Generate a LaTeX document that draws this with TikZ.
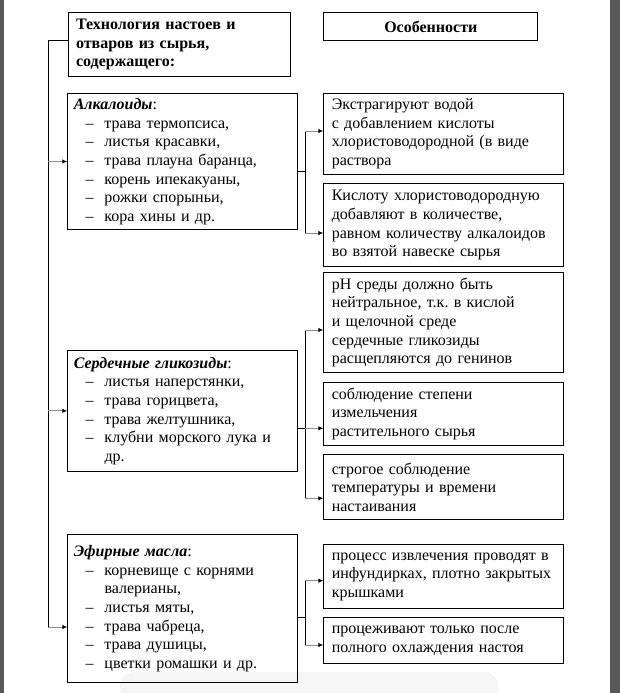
\documentclass[tikz,border=0pt]{standalone}
\usepackage{fontspec}
\setmainfont{Liberation Serif}
\usetikzlibrary{arrows.meta}
\newlength\pxl
\setlength\pxl{0.75pt}
\definecolor{edgegray}{HTML}{585858}
\definecolor{shaftgray}{HTML}{8C8C8C}
\definecolor{ghost}{HTML}{F5F5F5}
\newcommand\itm[1]{\hspace*{11.7\pxl}\makebox[19\pxl][l]{–}#1}
\newcommand\cnt[1]{\hspace*{30.7\pxl}#1}
\frenchspacing
\begin{document}
\begin{tikzpicture}[x=0.75pt,y=-0.75pt,
  basefont/.style={font=\fontsize{12pt}{14pt}\selectfont\frenchspacing},
  box/.style={draw=black, line width=0.75pt, anchor=north west, align=left, inner ysep=0pt, basefont},
  rbox/.style={box, text width=223.4\pxl, inner xsep=8\pxl},
  lbox/.style={box, text width=217.4\pxl, inner xsep=6\pxl},
  conn/.style={draw=black, line width=0.75pt},
  arr/.style={draw=shaftgray, line width=0.75pt, -{Latex[length=3.75pt,width=3.4pt,color=black]}}]
\useasboundingbox (0,0) rectangle (620,693);
\fill[white] (0,0) rectangle (620,693);
\fill[edgegray] (0,0) rectangle (4,693);
\fill[edgegray] (610,0) rectangle (620,693);
\fill[ghost, rounded corners=10.5pt] (120,700) -- (120,672) -- (498,672) -- (498,700) -- cycle;

% headers
\node[box, text width=206\pxl, inner xsep=8\pxl, minimum height=63.7\pxl,
      font=\fontsize{12pt}{14pt}\selectfont\bfseries] (title) at (67.5,12.3)
  {Технология настоев и\\отваров из сырья,\\содержащего:};
\node[box, align=center, minimum width=214\pxl, minimum height=27.7\pxl,
      font=\fontsize{12pt}{14pt}\selectfont\bfseries] (feat) at (323.3,12.3) {Особенности};

% left boxes
\node[lbox, minimum height=136.6\pxl] (alk) at (67.3,92.7)
  {{\bfseries\itshape Алкалоиды}:\\
   \itm{трава термопсиса,}\\
   \itm{листья красавки,}\\
   \itm{трава плауна баранца,}\\
   \itm{корень ипекакуаны,}\\
   \itm{рожки спорыньи,}\\
   \itm{кора хины и др.}};
\node[lbox, minimum height=120.7\pxl] (card) at (67.3,350)
  {{\bfseries\itshape Сердечные гликозиды}:\\
   \itm{листья наперстянки,}\\
   \itm{трава горицвета,}\\
   \itm{трава желтушника,}\\
   \itm{клубни морского лука и}\\
   \cnt{др.}};
\node[lbox, minimum height=147.4\pxl] (ess) at (67.3,534.3)
  {{\bfseries\itshape Эфирные масла}:\\
   \itm{корневище с корнями}\\
   \cnt{валерианы,}\\
   \itm{листья мяты,}\\
   \itm{трава чабреца,}\\
   \itm{трава душицы,}\\
   \itm{цветки ромашки и др.}};

% right boxes
\node[rbox, minimum height=81.3\pxl] (b1) at (323.3,92.7)
  {Экстрагируют водой\\с добавлением кислоты\\хлористоводородной (в виде\\раствора};
\node[rbox, minimum height=82.7\pxl] (b2) at (323.3,183.3)
  {Кислоту хлористоводородную\\добавляют в количестве,\\равном количеству алкалоидов\\во взятой навеске сырья};
\node[rbox, minimum height=100.6\pxl] (b3) at (323.3,271.7)
  {pH среды должно быть\\нейтральное, т.к. в кислой\\и щелочной среде\\сердечные гликозиды\\расщепляются до генинов};
\node[rbox, minimum height=63.3\pxl] (b4) at (323.3,381.7)
  {соблюдение степени\\измельчения\\растительного сырья};
\node[rbox, minimum height=65\pxl] (b5) at (323.3,454.3)
  {строгое соблюдение\\температуры и времени\\настаивания};
\node[rbox, minimum height=64.3\pxl] (b6) at (323.3,544)
  {процесс извлечения проводят в\\инфундирках, плотно закрытых\\крышками};
\node[rbox, minimum height=46\pxl] (b7) at (323.3,617.3)
  {процеживают только после\\полного охлаждения настоя};

% left trunk
\coordinate (trunk) at (48.3,40);
\coordinate (tend) at (48.3,627);
\draw[conn] (title.west |- trunk) -- (trunk) -- (tend);
\draw[arr] (trunk |- alk.west) -- (alk.west);
\draw[arr] (trunk |- card.west) -- (card.west);
\draw[arr] (tend) -- (tend -| ess.west);

% alkaloids branch
\coordinate (a1) at (305.3,131);
\coordinate (aj) at (305.3,171);
\coordinate (a2) at (305.3,233);
\draw[conn] (a1) -- (a2);
\draw[conn] (alk.east |- aj) -- (aj);
\draw[arr] (a1) -- (a1 -| b1.west);
\draw[arr] (a2) -- (a2 -| b2.west);

% cardiac branch
\coordinate (c1) at (305.3,330);
\coordinate (c2) at (305.3,428.3);
\coordinate (c3) at (305.3,498.3);
\draw[conn] (c1) -- (c3);
\draw[conn] (card.east |- c2) -- (c2);
\draw[arr] (c1) -- (c1 -| b3.west);
\draw[arr] (c2) -- (c2 -| b4.west);
\draw[arr] (c3) -- (c3 -| b5.west);

% essential oils branch
\coordinate (e1) at (305.3,580.7);
\coordinate (ej) at (305.3,617.3);
\coordinate (e2) at (305.3,645);
\draw[conn] (e1) -- (e2);
\draw[conn] (ess.east |- ej) -- (ej);
\draw[arr] (e1) -- (e1 -| b6.west);
\draw[arr] (e2) -- (e2 -| b7.west);
\end{tikzpicture}
\end{document}
